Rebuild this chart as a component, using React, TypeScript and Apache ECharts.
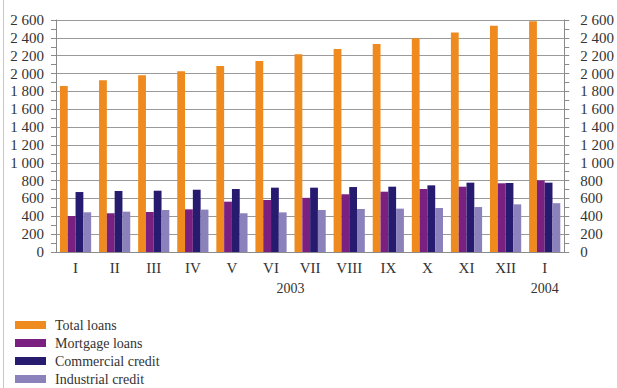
import React, { useEffect, useRef } from "react";
import * as echarts from "echarts";

const months = ["I", "II", "III", "IV", "V", "VI", "VII", "VIII", "IX", "X", "XI", "XII", "I"];
const seriesNames = ["Total loans", "Mortgage loans", "Commercial credit", "Industrial credit"];
const totalLoans = [1860, 1925, 1980, 2025, 2085, 2140, 2215, 2275, 2330, 2395, 2460, 2535, 2585];
const mortgageLoans = [403, 434, 448, 478, 564, 583, 607, 647, 676, 706, 732, 770, 803];
const commercialCredit = [672, 684, 687, 698, 706, 721, 721, 728, 732, 747, 777, 772, 777];
const industrialCredit = [445, 452, 471, 475, 434, 444, 471, 482, 486, 493, 504, 534, 547];
const yearLabels = [
  { at: 6, text: "2003" },
  { at: 12.5, text: "2004" },
];
const colors = ["#EE8A1E", "#7A2080", "#271B70", "#8B82BB"];

const FONT = "'Liberation Serif', 'DejaVu Serif', serif";
const fmt = (v: number) => {
  const s = String(v);
  return s.length > 3 ? s.slice(0, s.length - 3) + " " + s.slice(s.length - 3) : s;
};

export default function App() {
  const ref = useRef<HTMLDivElement>(null);
  useEffect(() => {
    if (!ref.current) return;
    const chart = echarts.init(ref.current, null, { renderer: "svg" });
    const data = [totalLoans, mortgageLoans, commercialCredit, industrialCredit];
    const yAxisBase = {
      type: "value",
      min: 0,
      max: 2600,
      interval: 200,
      axisLine: { show: true, lineStyle: { color: "#8a8a8a", width: 1 } },
      axisTick: { show: true, length: 5, lineStyle: { color: "#8a8a8a" } },
      minorTick: { show: true, splitNumber: 2, length: 5, lineStyle: { color: "#8a8a8a" } },
      axisLabel: {
        fontFamily: FONT,
        fontSize: 15,
        color: "#333",
        margin: 12,
        formatter: (v: number) => fmt(v),
      },
    };
    chart.setOption({
      animation: false,
      grid: { left: 56, right: 46, top: 20, bottom: 136, containLabel: false },
      legend: {
        orient: "vertical",
        left: 10,
        top: 313,
        height: 120,
        itemWidth: 31,
        itemHeight: 8,
        itemGap: 4,
        icon: "rect",
        selectedMode: false,
        data: seriesNames,
        textStyle: { fontFamily: FONT, fontSize: 14, color: "#333", padding: [0, 0, 0, 4] },
      },
      xAxis: [
        {
          type: "category",
          data: months,
          axisLine: { show: true, lineStyle: { color: "#8a8a8a" } },
          axisTick: { show: false },
          axisLabel: { fontFamily: FONT, fontSize: 15, color: "#333", margin: 8, interval: 0 },
        },
        {
          type: "value",
          position: "bottom",
          offset: 21,
          min: 0,
          max: 13,
          interval: 0.5,
          axisLine: { show: false },
          axisTick: { show: false },
          splitLine: { show: false },
          axisLabel: {
            fontFamily: FONT,
            fontSize: 14,
            color: "#333",
            margin: 8,
            showMinLabel: true,
            showMaxLabel: true,
            formatter: (v: number) => {
              const f = yearLabels.find((y) => Math.abs(y.at - v) < 1e-6);
              return f ? f.text : "";
            },
          },
        },
      ],
      yAxis: [
        {
          ...yAxisBase,
          position: "left",
          splitLine: { show: true, lineStyle: { color: "#9a9a9a", width: 1 } },
        },
        {
          ...yAxisBase,
          position: "right",
          splitLine: { show: false },
          axisLabel: { ...yAxisBase.axisLabel, margin: 16 },
        },
      ],
      graphic: [
        {
          type: "line",
          shape: { x1: 3.5, y1: 0, x2: 3.5, y2: 388 },
          style: { stroke: "#c8c8c8", lineWidth: 1 },
        },
      ],
      series: seriesNames.map((name, i) => ({
        name,
        type: "bar",
        xAxisIndex: 0,
        yAxisIndex: 0,
        data: data[i],
        barWidth: 7.8,
        barGap: "0%",
        itemStyle: { color: colors[i] },
      })),
    });
    return () => chart.dispose();
  }, []);
  return <div ref={ref} style={{ width: 617, height: 388, position: "absolute", left: 0, top: 0, background: "#fff" }} />;
}
